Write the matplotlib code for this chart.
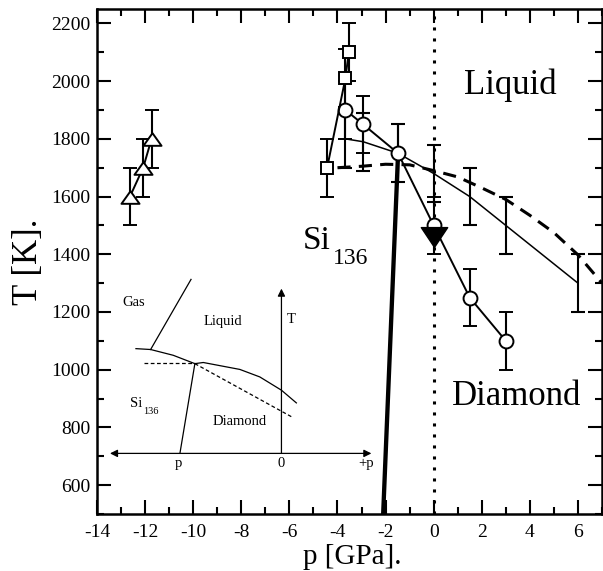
import matplotlib
matplotlib.use("Agg")
import matplotlib.pyplot as plt
from matplotlib.ticker import MultipleLocator
from matplotlib.path import Path

plt.rcParams['font.family'] = ['Liberation Serif', 'DejaVu Serif']
plt.rcParams['axes.unicode_minus'] = False

# triangles (left group)
tri_p = [-12.63, -12.08, -11.73]
tri_T = [1600, 1700, 1800]
tri_err = [100, 100, 100]

# squares
sq_p = [-4.43, -3.67, -3.53]
sq_T = [1700, 2010, 2100]
sq_err = [100, 100, 100]

# open circles
circ_p = [-3.67, -2.93, -1.48, 0.0, 1.5, 3.0]
circ_T = [1900, 1850, 1750, 1500, 1250, 1100]
circ_err = [100, 100, 100, 100, 100, 100]

# thin line with error bars, no markers
thin_p = [-3.67, -2.93, -1.48, 0.0, 1.5, 3.0, 6.0]
thin_T = [1800, 1790, 1750, 1680, 1600, 1500, 1300]
thin_err = [100, 100, 100, 100, 100, 100, 100]

# dashed curve
dash_p = [-4.0, -3.0, -2.0, -1.0, 0.0, 1.0, 2.0, 3.0, 4.0, 5.0, 6.0, 7.0]
dash_T = [1700, 1705, 1712, 1710, 1690, 1668, 1630, 1590, 1535, 1475, 1398, 1300]

# thick line (Si136 / liquid boundary)
melt_p = [-2.1, -1.48]
melt_T = [500, 1750]

# filled triangle
fill_p = [0.0]
fill_T = [1460]

# inset sketch
liq_p = [-12.38, -11.77, -10.83, -9.93, -9.58, -8.06, -7.23, -6.33, -5.71]
liq_T = [1073, 1070, 1050, 1021, 1025, 1001, 975, 929, 885]

closed = [Path.MOVETO, Path.LINETO, Path.LINETO, Path.CLOSEPOLY]
tri_up = Path([(-1, -0.7), (1, -0.7), (0, 0.7), (-1, -0.7)], closed)
tri_down = Path([(-1, 0.75), (1, 0.75), (0, -0.75), (-1, 0.75)], closed)

fig = plt.figure(figsize=(6.03, 5.71), dpi=100)
ax = fig.add_axes([97 / 603, 1 - 514 / 571, 505 / 603, 505 / 571])

ebkw = dict(elinewidth=1.5, capsize=5, capthick=1.5, ecolor='black')

ax.axvline(0, color='black', lw=2.2, linestyle=(0, (1, 2.6)), dash_capstyle='butt', zorder=1)
ax.plot(dash_p, dash_T, color='black', lw=2.2, linestyle=(0, (4.3, 2.7)), zorder=2)
ax.plot(melt_p, melt_T, color='black', lw=3.1, zorder=2)

ax.errorbar(thin_p, thin_T, yerr=thin_err, color='black', lw=1.1, **ebkw, zorder=2)
ax.errorbar(circ_p, circ_T, yerr=circ_err, color='black', lw=1.4, marker='o', ms=10,
            mfc='white', mec='black', mew=1.4, **ebkw, zorder=3)
ax.errorbar(sq_p, sq_T, yerr=sq_err, color='black', lw=1.4, marker='s', ms=9,
            mfc='white', mec='black', mew=1.4, **ebkw, zorder=3)
ax.errorbar(tri_p, tri_T, yerr=tri_err, color='black', lw=1.4, marker=tri_up, ms=13,
            mfc='white', mec='black', mew=1.4, **ebkw, zorder=3)
ax.plot(fill_p, fill_T, linestyle='none', marker=tri_down, ms=19, mfc='black', mec='black', zorder=4)

# big labels
ax.text(3.2, 1986, 'Liquid', fontsize=25, ha='center', va='center')
ax.text(3.46, 906, 'Diamond', fontsize=25, ha='center', va='center')
ax.text(-5.45, 1420, 'Si', fontsize=24, ha='left', va='baseline')
ax.text(-4.18, 1368, '136', fontsize=17, ha='left', va='baseline')

# inset schematic phase diagram
ilw = 0.9
ax.annotate('', xy=(-13.46, 710), xytext=(-2.59, 710),
            arrowprops=dict(arrowstyle='<|-|>', color='black', lw=ilw, mutation_scale=11,
                            shrinkA=0, shrinkB=0))
ax.annotate('', xy=(-6.33, 1281), xytext=(-6.33, 710),
            arrowprops=dict(arrowstyle='-|>', color='black', lw=ilw, mutation_scale=11,
                            shrinkA=0, shrinkB=0))
ax.plot(liq_p, liq_T, color='black', lw=ilw)
ax.plot([-11.77, -10.09], [1070, 1313], color='black', lw=ilw)
ax.plot([-9.93, -10.55], [1021, 711], color='black', lw=ilw)
ax.plot([-12.03, -9.93], [1022, 1022], color='black', lw=ilw, linestyle=(0, (3, 2)))
ax.plot([-9.93, -5.89], [1021, 836], color='black', lw=ilw, linestyle=(0, (3, 2)))
isz = 10.5
ax.text(-12.49, 1232, 'Gas', fontsize=isz, ha='center', va='center')
ax.text(-8.78, 1166, 'Liquid', fontsize=isz, ha='center', va='center')
ax.text(-8.06, 822, 'Diamond', fontsize=isz, ha='center', va='center')
ax.text(-12.63, 871, 'Si', fontsize=isz, ha='left', va='baseline')
ax.text(-12.08, 846, '136', fontsize=7.5, ha='left', va='baseline')
ax.text(-5.91, 1174, 'T', fontsize=isz, ha='center', va='center')
ax.text(-10.62, 675, 'p', fontsize=isz, ha='center', va='center')
ax.text(-6.33, 675, '0', fontsize=isz, ha='center', va='center')
ax.text(-2.82, 675, '+p', fontsize=isz, ha='center', va='center')

ax.set_xlim(-14, 7)
ax.set_ylim(500, 2250)
ax.xaxis.set_minor_locator(MultipleLocator(1))
ax.yaxis.set_minor_locator(MultipleLocator(100))
ax.set_xticks(range(-14, 7, 2))
ax.set_yticks(range(600, 2201, 200))
ax.tick_params(which='both', direction='in', top=True, right=True, width=1.5, labelsize=14)
ax.tick_params(which='major', length=10)
ax.tick_params(which='minor', length=5)
ax.tick_params(axis='x', pad=7)
ax.tick_params(axis='y', pad=5)
for s in ax.spines.values():
    s.set_linewidth(1.8)

fig.text(352 / 603, 1 - 564 / 571, 'p [GPa].', fontsize=21, ha='center', va='baseline')
fig.text(29 / 603, 1 - 262 / 571, 'T [K].', fontsize=25, ha='center', va='center', rotation=90)

plt.savefig('out.png', dpi=100)
